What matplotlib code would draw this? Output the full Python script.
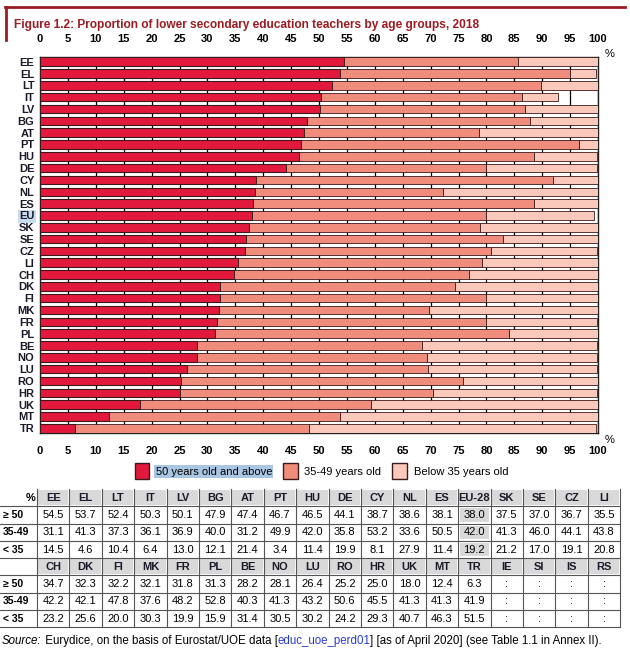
import matplotlib
matplotlib.use("Agg")
from matplotlib import pyplot as plt
from matplotlib.patches import Patch, Rectangle
import numpy as np

# chart / table data
countries = ['EE', 'EL', 'LT', 'IT', 'LV', 'BG', 'AT', 'PT', 'HU', 'DE', 'CY', 'NL', 'ES', 'EU-28',
             'SK', 'SE', 'CZ', 'LI', 'CH', 'DK', 'FI', 'MK', 'FR', 'PL', 'BE', 'NO', 'LU', 'RO',
             'HR', 'UK', 'MT', 'TR']
age_50 = [54.5, 53.7, 52.4, 50.3, 50.1, 47.9, 47.4, 46.7, 46.5, 44.1, 38.7, 38.6, 38.1, 38.0,
          37.5, 37.0, 36.7, 35.5, 34.7, 32.3, 32.2, 32.1, 31.8, 31.3, 28.2, 28.1, 26.4, 25.2,
          25.0, 18.0, 12.4, 6.3]
age_35_49 = [31.1, 41.3, 37.3, 36.1, 36.9, 40.0, 31.2, 49.9, 42.0, 35.8, 53.2, 33.6, 50.5, 42.0,
             41.3, 46.0, 44.1, 43.8, 42.2, 42.1, 47.8, 37.6, 48.2, 52.8, 40.3, 41.3, 43.2, 50.6,
             45.5, 41.3, 41.3, 41.9]
age_lt35 = [14.5, 4.6, 10.4, 6.4, 13.0, 12.1, 21.4, 3.4, 11.4, 19.9, 8.1, 27.9, 11.4, 19.2,
            21.2, 17.0, 19.1, 20.8, 23.2, 25.6, 20.0, 30.3, 19.9, 15.9, 31.4, 30.5, 30.2, 24.2,
            29.3, 40.7, 46.3, 51.5]
no_data = ['IE', 'SI', 'IS', 'RS']
series_labels = ['50 years old and above', '35-49 years old', 'Below 35 years old']
row_labels = ['≥ 50', '35-49', '< 35']

plt.rcParams['font.family'] = ['Liberation Sans', 'DejaVu Sans']

c_old = '#e2193c'
c_mid = '#f08c7c'
c_young = '#fbc8bc'
c_edge = '#3a1a1a'
c_title = '#9b1c22'

W, H = 630, 653
fig = plt.figure(figsize=(W / 100, H / 100), dpi=100)

# overlay in pixel coordinates for title, table, source
ov = fig.add_axes([0, 0, 1, 1])
ov.set_xlim(0, W)
ov.set_ylim(H, 0)
ov.axis('off')

ov.plot([5, 625], [7, 7], color=c_title, lw=2)
ov.plot([6, 6], [7, 40], color=c_title, lw=2)
ov.text(14, 25, 'Figure 1.2: Proportion of lower secondary education teachers by age groups, 2018',
        fontsize=8.6, fontweight='bold', color=c_title, va='center', ha='left')

# bar chart
def px(x0, y0, x1, y1):
    return [x0 / W, 1 - y1 / H, (x1 - x0) / W, (y1 - y0) / H]

ax = fig.add_axes(px(40, 57, 598, 433))
labels = ['EU' if c == 'EU-28' else c for c in countries]
y = np.arange(len(countries))
left2 = np.array(age_50)
left3 = left2 + np.array(age_35_49)
bh = 0.72
ax.barh(y, age_50, height=bh, color=c_old, edgecolor=c_edge, linewidth=0.8, zorder=3)
ax.barh(y, age_35_49, left=left2, height=bh, color=c_mid, edgecolor=c_edge, linewidth=0.6, zorder=3)
ax.barh(y, age_lt35, left=left3, height=bh, color=c_young, edgecolor=c_edge, linewidth=0.6, zorder=3)

ax.set_xlim(0, 100)
ax.set_ylim(len(countries) - 1 + 0.4, -0.4)
ax.set_xticks(np.arange(0, 101, 5))
ax.set_axisbelow(True)
ax.xaxis.grid(True, color='black', lw=0.9)
ax.tick_params(axis='x', which='both', top=True, labeltop=True, bottom=True, labelbottom=True,
               length=0, pad=9, labelsize=8)
for lab in ax.get_xticklabels():
    lab.set_fontweight('bold')
ax.set_yticks(y)
ax.set_yticklabels(labels, fontsize=8, fontweight='bold', color='#1a1a2a')
ax.tick_params(axis='y', length=0, pad=4)
for lab in ax.get_yticklabels():
    if lab.get_text() == 'EU':
        lab.set_bbox(dict(facecolor='#c9dcef', edgecolor='none', pad=1))
for s in ax.spines.values():
    s.set_color('#222222')
    s.set_linewidth(1.0)
ax.text(1.012, 0.995, '%', transform=ax.transAxes, fontsize=8, va='bottom', ha='left')
ax.text(1.012, -0.005, '%', transform=ax.transAxes, fontsize=8, va='top', ha='left')

# legend
handles = [Patch(facecolor=c, edgecolor=c_edge, linewidth=1.0) for c in (c_old, c_mid, c_young)]
leg = fig.legend(handles, series_labels, ncol=3, loc='center', bbox_to_anchor=(0.51, 1 - 471 / H),
                 frameon=False, fontsize=8, handlelength=1.3, handleheight=1.9, columnspacing=1.0,
                 handletextpad=0.6)
leg.get_texts()[0].set_bbox(dict(facecolor='#a9c7e3', edgecolor='none', pad=1))

# table
x_lab0, x_col0, col_w = 2, 37, 32.4
rows_top = [489, 558]
row_h = 17.3
blocks = [countries[:18], countries[18:] + no_data]
vals = [age_50, age_35_49, age_lt35]
for b, names in enumerate(blocks):
    top = rows_top[b]
    # header
    for j, name in enumerate(names):
        x0 = x_col0 + j * col_w
        ov.add_patch(Rectangle((x0 + 1, top + 1), col_w - 2, row_h - 2, facecolor='#d9d9d9',
                               edgecolor='none'))
        ov.text(x0 + col_w / 2, top + row_h / 2, name, ha='center', va='center',
                fontsize=8, fontweight='bold', color='#1a1a2a')
    if b == 0:
        ov.text(x_col0 - 1, top + row_h / 2, '%', ha='right', va='center', fontsize=8,
                fontweight='bold')
    for r in range(3):
        yy = top + (r + 1) * row_h
        ov.text(x_lab0 + 1, yy + row_h / 2, row_labels[r], ha='left', va='center', fontsize=7.5,
                fontweight='bold')
        for j, name in enumerate(names):
            x0 = x_col0 + j * col_w
            idx = b * 18 + j
            if name in no_data:
                txt = ':'
            else:
                txt = f'{vals[r][idx]:.1f}'
            if name == 'EU-28':
                ov.add_patch(Rectangle((x0 + 2, yy + 2), col_w - 4, row_h - 4,
                                       facecolor='#d9d9d9', edgecolor='none'))
            ov.text(x0 + col_w / 2, yy + row_h / 2, txt, ha='center', va='center', fontsize=8)
        ov.plot([0, x_col0 + 18 * col_w], [yy, yy], color='#555555', lw=0.8)
    bottom = top + 4 * row_h
    ov.plot([0, x_col0 + 18 * col_w], [bottom, bottom], color='#555555', lw=0.8)
    for j in range(19):
        x0 = x_col0 + j * col_w
        ov.plot([x0, x0], [top, bottom], color='#555555', lw=0.8)

# source line
src_y = 641
renderer = fig.canvas.get_renderer()
pieces = [('Source:', dict(style='italic')), (' Eurydice, on the basis of Eurostat/UOE data [', {}),
          ('educ_uoe_perd01', dict(color='#2a3ccf')),
          ('] [as of April 2020] (see Table 1.1 in Annex II).', {})]
xpos = 2 / W
for txt, kw in pieces:
    t = fig.text(xpos, 1 - src_y / H, txt, fontsize=8.3, va='center', ha='left', **kw)
    bb = t.get_window_extent(renderer=renderer)
    xpos += bb.width / W

fig.savefig('out.png', dpi=100)
